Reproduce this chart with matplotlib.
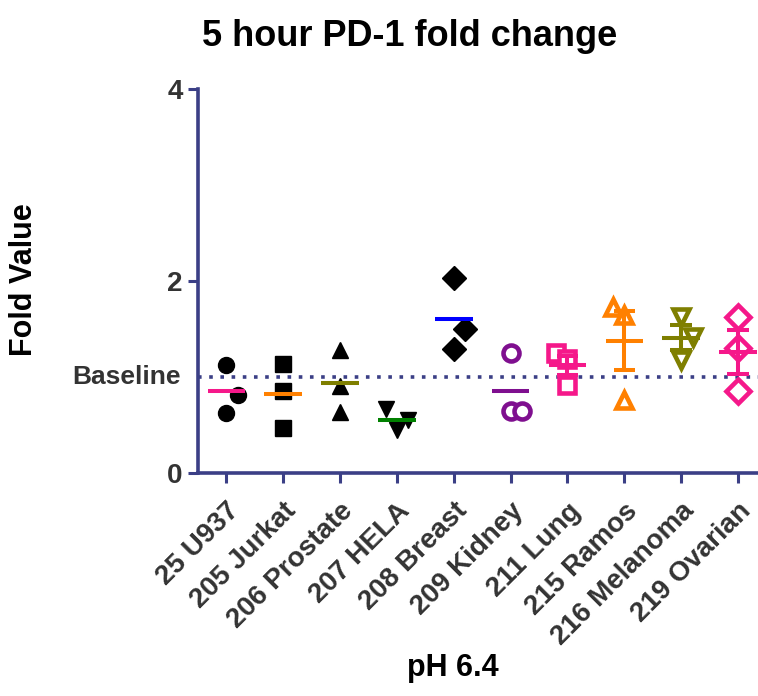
import numpy as np
import matplotlib
matplotlib.use('Agg')
import matplotlib.pyplot as plt

plt.rcParams['font.family'] = ['Liberation Sans', 'DejaVu Sans']
plt.rcParams['font.weight'] = 'bold'

navy = '#3b3f86'
grey = '#333333'

cells = ['25 U937', '205 Jurkat', '206 Prostate', '207 HELA', '208 Breast',
         '209 Kidney', '211 Lung', '215 Ramos', '216 Melanoma', '219 Ovarian']

vals = [
    [1.125, 0.62, 0.81],
    [1.135, 0.857, 0.465],
    [1.28, 0.906, 0.64],
    [0.67, 0.55, 0.45],
    [2.03, 1.5, 1.29],
    [1.25, 0.65, 0.65],
    [1.25, 1.19, 0.92],
    [1.73, 1.65, 0.76],
    [1.63, 1.42, 1.18],
    [1.63, 1.30, 0.85],
]
# little horizontal scatter of the points
jit = [
    [0, 0, 0.2], [0, 0, 0], [0, 0, 0], [-0.2, 0.2, 0], [0, 0.2, 0],
    [0, 0, 0.2], [-0.2, 0, 0], [-0.2, 0, 0], [0, 0.2, 0], [0, 0, 0],
]
markers = ['o', 's', '^', 'v', 'D', 'o', 's', '^', 'v', 'D']
mcolors = ['k', 'k', 'k', 'k', 'k', '#7f0f8f', '#f5188a', '#ff8000', '#7f7f00', '#f5188a']
filled = [True] * 5 + [False] * 5
linecol = ['#f5188a', '#ff8000', '#7f7f00', '#008000', '#0000ff',
           '#7f0f8f', '#f5188a', '#ff8000', '#7f7f00', '#f5188a']
sem_bars = [False] * 6 + [True] * 4

fig = plt.figure(figsize=(7.58, 6.96), dpi=100)
ax = fig.add_axes([0.261, 0.3204, 0.739, 0.5518])

for i in range(len(cells)):
    v = np.array(vals[i])
    x = i + np.array(jit[i])
    if filled[i]:
        ms = 12.5 if markers[i] == 'D' else 11.5
        ax.plot(x, v, ls='none', marker=markers[i], ms=ms, mfc=mcolors[i], mec=mcolors[i], zorder=3)
    else:
        ms = 12 if markers[i] == 'D' else 11.5
        ax.plot(x, v, ls='none', marker=markers[i], ms=ms, mfc='white', mec=mcolors[i],
                mew=3.3, zorder=3)
    m = v.mean()
    ax.plot([i - 0.33, i + 0.33], [m, m], color=linecol[i], lw=2.9, zorder=4, solid_capstyle='butt')
    if sem_bars[i]:
        s = v.std(ddof=1) / np.sqrt(len(v))
        ax.plot([i, i], [m - s, m + s], color=linecol[i], lw=2.9, zorder=4)
        for y in (m - s, m + s):
            ax.plot([i - 0.19, i + 0.19], [y, y], color=linecol[i], lw=2.9, zorder=4,
                    solid_capstyle='butt')

ax.axhline(1.0, color=navy, lw=2.6, ls=(0, (1, 2.1)), zorder=2)

ax.set_xlim(-0.5, 9.35)
ax.set_ylim(0, 4)
ax.set_yticks([0, 2, 4])
ax.set_yticklabels(['0', '2', '4'], fontsize=20, color=grey, fontweight='bold')
ax.set_xticks(range(len(cells)))
ax.set_xticklabels(cells, rotation=45, ha='right', rotation_mode='anchor',
                   fontsize=20, color=grey, fontweight='bold')
ax.tick_params(axis='both', direction='out', length=7, width=2.2, color=navy, pad=4)
ax.tick_params(axis='x', pad=11)
ax.text(-0.03, 1.0, 'Baseline', transform=ax.get_yaxis_transform(), ha='right', va='center',
        fontsize=19, color=grey, fontweight='bold')

for sp in ['top', 'right']:
    ax.spines[sp].set_visible(False)
for sp in ['left', 'bottom']:
    ax.spines[sp].set_color(navy)
    ax.spines[sp].set_linewidth(2.6)

fig.text(0.54, 0.948, '5 hour PD-1 fold change', ha='center', va='center',
         fontsize=26, fontweight='bold', color='k')
fig.text(0.032, 0.598, 'Fold Value', rotation=90, ha='center', va='center',
         fontsize=22, fontweight='bold', color='k')
fig.text(0.597, 0.04, 'pH 6.4', ha='center', va='center',
         fontsize=22, fontweight='bold', color='k')

fig.savefig('out.png', dpi=100)
